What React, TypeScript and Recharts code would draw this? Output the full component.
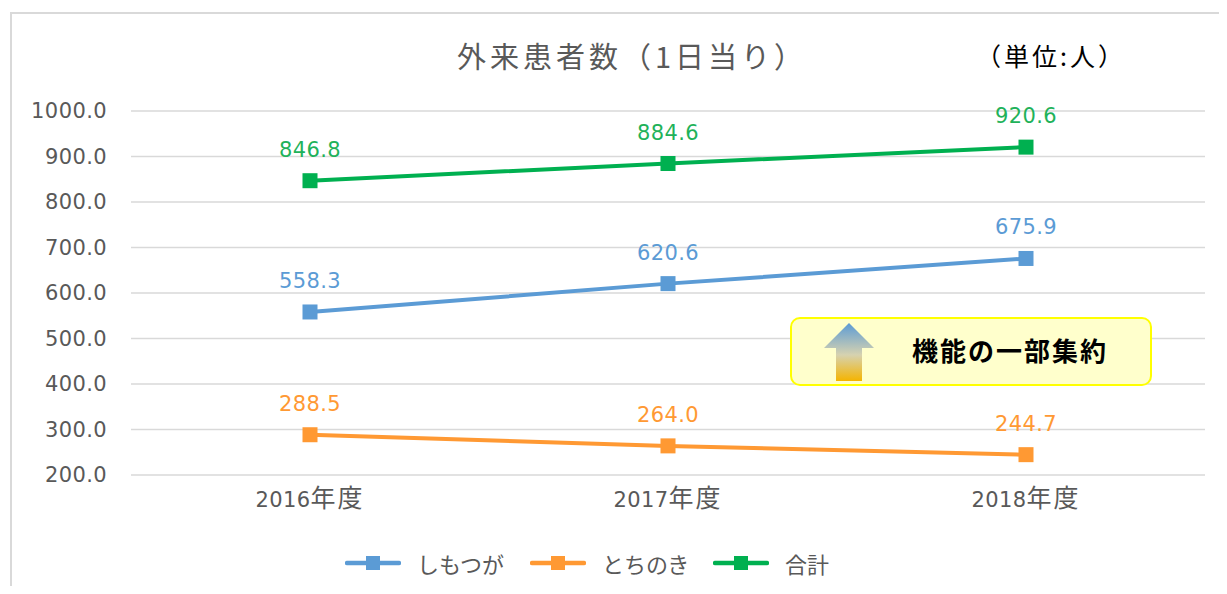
import { LineChart, Line, XAxis, YAxis, CartesianGrid, LabelList } from 'recharts';

// 年度ごとの外来患者数（1日当り）
const years = ['2016年度', '2017年度', '2018年度'];
const shimotsuga = [558.3, 620.6, 675.9];
const tochinoki = [288.5, 264.0, 244.7];
const total = [846.8, 884.6, 920.6];
const yTicks = [200, 300, 400, 500, 600, 700, 800, 900, 1000];

const series = [
  { key: 'shimotsuga', name: 'しもつが', color: '#5B9BD5', label: '#5B9BD5', values: shimotsuga },
  { key: 'tochinoki', name: 'とちのき', color: '#FF9933', label: '#FF9933', values: tochinoki },
  { key: 'total', name: '合計', color: '#00B050', label: '#1FB25A', values: total },
];

const data = years.map((year, i) => {
  const row: Record<string, string | number> = { year };
  series.forEach((s) => {
    row[s.key] = s.values[i];
  });
  return row;
});

const FONT = "'Noto Sans CJK JP', 'Noto Sans', sans-serif";
const NUM_FONT = "'DejaVu Sans', 'Noto Sans CJK JP', sans-serif";

// 四角マーカー
const squareDot = (color: string) => (props: any) => {
  const { cx, cy, index } = props;
  if (cx == null || cy == null) return null;
  return <rect key={`dot-${index}`} x={cx - 7.5} y={cy - 7.5} width={15} height={15} fill={color} />;
};

// X軸ラベル：数字と「年度」でフォントを分ける
const YearTick = (props: any) => {
  const { x, y, payload } = props;
  const text = String(payload.value);
  const digits = text.replace(/[^0-9]/g, '');
  const rest = text.replace(/[0-9]/g, '');
  return (
    <text x={x} y={y} textAnchor="middle" dy="0.75em" fill="#595959">
      <tspan fontFamily={NUM_FONT} fontSize={21} letterSpacing={0.4}>{digits}</tspan>
      <tspan fontFamily={FONT} fontSize={25} letterSpacing={2}>{rest}</tspan>
    </text>
  );
};

const legendLeft = [345, 530, 713];

export default function App() {
  return (
    <div
      style={{
        position: 'relative',
        width: 1227,
        height: 594,
        margin: -8,
        background: '#fff',
        overflow: 'hidden',
        fontFamily: FONT,
      }}
    >
      {/* グラフ枠（右・下は切れている） */}
      <div
        style={{
          position: 'absolute',
          left: 10,
          top: 12,
          width: 1240,
          height: 620,
          border: '2px solid #d9d9d9',
        }}
      />

      <LineChart
        width={1227}
        height={594}
        data={data}
        margin={{ top: 111, right: 22, bottom: 89, left: 0 }}
        style={{ position: 'absolute', left: 0, top: 0 }}
      >
        <CartesianGrid vertical={false} stroke="#d9d9d9" strokeWidth={1.5} />
        <XAxis
          dataKey="year"
          height={30}
          axisLine={false}
          tickLine={false}
          tickSize={0}
          tickMargin={20}
          padding={{ left: 179, right: 179 }}
          tick={<YearTick />}
        />
        <YAxis
          width={131}
          domain={[200, 1000]}
          ticks={yTicks}
          axisLine={false}
          tickLine={false}
          tickSize={0}
          tickMargin={24}
          tickFormatter={(v: number) => v.toFixed(1)}
          tick={{ fill: '#595959', fontSize: 21, fontFamily: NUM_FONT, letterSpacing: 0.4 }}
        />
        {series.map((s) => (
          <Line
            key={s.key}
            dataKey={s.key}
            name={s.name}
            stroke={s.color}
            strokeWidth={4}
            dot={squareDot(s.color)}
            activeDot={false}
            isAnimationActive={false}
          >
            <LabelList
              dataKey={s.key}
              position="top"
              offset={24}
              formatter={(v: any) => Number(v).toFixed(1)}
              style={{ fill: s.label, fontSize: 21, fontFamily: NUM_FONT, letterSpacing: 0.4 }}
            />
          </Line>
        ))}
      </LineChart>

      {/* タイトル */}
      <div
        style={{
          position: 'absolute',
          left: 0,
          width: 1264,
          top: 35,
          textAlign: 'center',
          fontSize: 29,
          color: '#595959',
          letterSpacing: 4,
          lineHeight: '40px',
        }}
      >
        外来患者数（1日当り）
      </div>
      <div
        style={{
          position: 'absolute',
          left: 976,
          top: 36,
          fontSize: 25,
          color: '#000',
          letterSpacing: 3,
          lineHeight: '38px',
        }}
      >
        （単位:人）
      </div>

      {/* 吹き出し */}
      <div
        style={{
          position: 'absolute',
          left: 790,
          top: 317,
          width: 358,
          height: 65,
          border: '2.5px solid #FFFF00',
          borderRadius: 10,
          background: '#FFFFCC',
        }}
      >
        <svg width={52} height={60} style={{ position: 'absolute', left: 31, top: 2 }}>
          <defs>
            <linearGradient id="arrowGrad" x1="0" y1="0" x2="0" y2="1">
              <stop offset="0%" stopColor="#5B9BD5" />
              <stop offset="55%" stopColor="#D6D2B0" />
              <stop offset="100%" stopColor="#F5B400" />
            </linearGradient>
          </defs>
          <polygon points="26,2 51,27 39,27 39,60 13,60 13,27 1,27" fill="url(#arrowGrad)" />
        </svg>
        <div
          style={{
            position: 'absolute',
            left: 120,
            top: 13,
            fontSize: 26,
            fontWeight: 700,
            color: '#000',
            letterSpacing: 2,
            lineHeight: '36px',
          }}
        >
          機能の一部集約
        </div>
      </div>

      {/* 凡例 */}
      {series.map((s, i) => (
        <div
          key={s.key}
          style={{
            position: 'absolute',
            left: legendLeft[i],
            top: 548,
            height: 30,
            display: 'flex',
            alignItems: 'center',
          }}
        >
          <svg width={56} height={20}>
            <line x1={2} y1={10} x2={54} y2={10} stroke={s.color} strokeWidth={4.5} strokeLinecap="round" />
            <rect x={21} y={3} width={14} height={14} fill={s.color} />
          </svg>
          <span style={{ marginLeft: 16, fontSize: 22, color: '#595959' }}>{s.name}</span>
        </div>
      ))}
    </div>
  );
}
